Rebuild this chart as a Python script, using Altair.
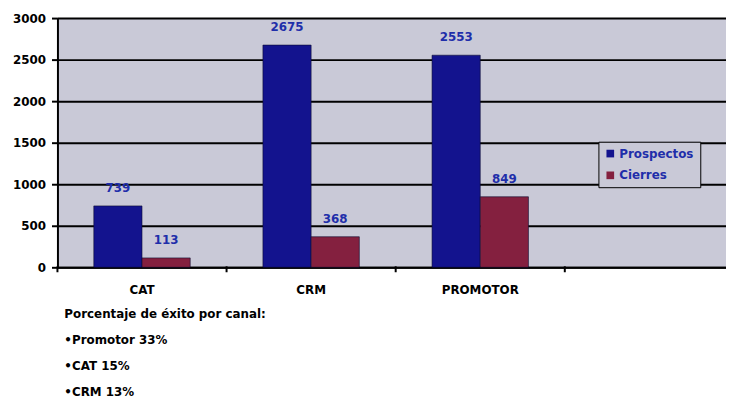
import altair as alt
import pandas as pd

# ---- data ----
canales = ["CAT", "CRM", "PROMOTOR"]
prospectos = [739, 2675, 2553]
cierres = [113, 368, 849]
series = ["Prospectos", "Cierres"]
y_ticks = [0, 500, 1000, 1500, 2000, 2500, 3000]
x_slots = canales + [""]
notas = [
    "Porcentaje de éxito por canal:",
    "•Promotor 33%",
    "•CAT 15%",
    "•CRM 13%",
]

rows = []
for c, p, k in zip(canales, prospectos, cierres):
    rows.append({"canal": c, "serie": series[0], "valor": p})
    rows.append({"canal": c, "serie": series[1], "valor": k})
df = pd.DataFrame(rows)
slots_df = pd.DataFrame({"canal": x_slots})

FONT = "DejaVu Sans"
BG = "#c9c9d7"
NAVY = "#13138e"
MAROON = "#84203f"
LABEL_BLUE = "#1f2eaa"

PAD_IN = 0.43
X_RANGE = [0, 684]
x_scale = alt.Scale(domain=x_slots, range=X_RANGE, paddingInner=PAD_IN, paddingOuter=PAD_IN / 2)

x_enc = alt.X(
    "canal:N",
    scale=x_scale,
    sort=x_slots,
    axis=alt.Axis(
        title=None,
        labelAngle=0,
        ticks=False,
        domainColor="black",
        domainWidth=2,
        labelFont=FONT,
        labelFontSize=12,
        labelFontWeight="bold",
        labelColor="black",
        labelPadding=17,
    ),
)
y_enc = alt.Y(
    "valor:Q",
    scale=alt.Scale(domain=[0, 3000], nice=False),
    axis=alt.Axis(
        title=None,
        values=y_ticks,
        format="d",
        grid=True,
        gridColor="black",
        gridWidth=2,
        gridOpacity=1,
        domainColor="black",
        domainWidth=2,
        tickColor="black",
        tickWidth=2,
        tickSize=6,
        labelPadding=6,
        labelFont=FONT,
        labelFontSize=12,
        labelFontWeight="bold",
        labelColor="black",
    ),
)

bars = alt.Chart(df).mark_bar(stroke="#0a0a30", strokeWidth=0.6).encode(
    x=x_enc,
    xOffset=alt.XOffset("serie:N", sort=series, scale=alt.Scale(domain=series)),
    y=y_enc,
    color=alt.Color(
        "serie:N",
        scale=alt.Scale(domain=series, range=[NAVY, MAROON]),
        legend=alt.Legend(
            title=None,
            orient="none",
            legendX=547,
            legendY=125,
            fillColor=BG,
            strokeColor="black",
            padding=6,
            symbolType="square",
            symbolSize=60,
            symbolStrokeWidth=0,
            labelFont=FONT,
            labelFontSize=12,
            labelFontWeight="bold",
            labelColor=LABEL_BLUE,
            rowPadding=10,
            labelOffset=3,
        ),
    ),
)

labels = alt.Chart(df).mark_text(
    dy=-18, font=FONT, fontSize=12, fontWeight="bold", color=LABEL_BLUE, baseline="middle"
).encode(
    x=alt.X("canal:N", sort=x_slots),
    xOffset=alt.XOffset("serie:N", sort=series),
    y=alt.Y("valor:Q"),
    text=alt.Text("valor:Q", format="d"),
)

# category boundary ticks on a padding-free band scale over the same range
ticks = alt.Chart(slots_df).mark_rule(color="black", strokeWidth=2).encode(
    x=alt.X(
        "canal:N",
        sort=x_slots,
        bandPosition=0,
        scale=alt.Scale(domain=x_slots, range=X_RANGE, paddingInner=0, paddingOuter=0),
        axis=None,
    ),
    y=alt.value(251),
    y2=alt.value(257),
)

chart = (
    alt.layer(alt.layer(bars, labels), ticks)
    .resolve_scale(x="independent")
    .properties(
        width=676,
        height=252,
        autosize=alt.AutoSizeParams(type="none"),
        padding={"left": 50, "top": 8, "right": 0, "bottom": 134},
        background="white",
        title=alt.TitleParams(
            text=notas,
            orient="bottom",
            anchor="start",
            frame="group",
            dx=7,
            offset=14,
            font=FONT,
            fontSize=12,
            fontWeight="bold",
            color="black",
            lineHeight=26.5,
        ),
    )
    .configure_view(fill=BG, strokeOpacity=0)
)

chart.save("out.html", embed_options={"renderer": "svg", "actions": False})
